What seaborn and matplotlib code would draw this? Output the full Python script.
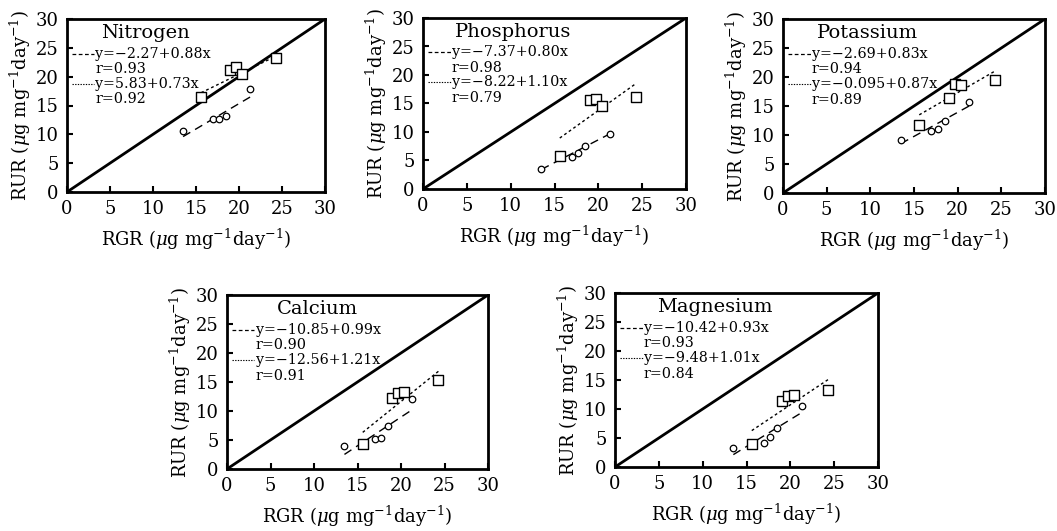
import matplotlib
matplotlib.use("Agg")
import matplotlib.pyplot as plt
import seaborn as sns
import numpy as np
import pandas as pd

# ---- data ----
nutrients = ["Nitrogen", "Phosphorus", "Potassium", "Calcium", "Magnesium"]
rgr_circles = [13.5, 17.0, 17.7, 18.5, 21.3]
rgr_squares = [15.6, 19.0, 19.7, 20.4, 24.3]

rur_circles_N = [10.6, 12.6, 12.7, 13.1, 17.9]
rur_squares_N = [16.4, 21.1, 21.6, 20.5, 23.2]
rur_circles_P = [3.5, 5.7, 6.3, 7.6, 9.6]
rur_squares_P = [5.8, 15.6, 15.8, 14.6, 16.1]
rur_circles_K = [9.1, 10.7, 11.0, 12.4, 15.7]
rur_squares_K = [11.7, 16.4, 18.8, 18.6, 19.4]
rur_circles_Ca = [4.0, 5.1, 5.4, 7.5, 12.0]
rur_squares_Ca = [4.3, 12.2, 13.1, 13.2, 15.4]
rur_circles_Mg = [3.2, 4.2, 5.2, 6.8, 10.6]
rur_squares_Mg = [3.9, 11.3, 12.2, 12.45, 13.2]

# regression coefficients printed in each panel (intercept, slope, r)
fit1_a = [-2.27, -7.37, -2.69, -10.85, -10.42]
fit1_b = [0.88, 0.80, 0.83, 0.99, 0.93]
fit1_r = [0.93, 0.98, 0.94, 0.90, 0.93]
fit2_a = [5.83, -8.22, -0.095, -12.56, -9.48]
fit2_b = [0.73, 1.10, 0.87, 1.21, 1.01]
fit2_r = [0.92, 0.79, 0.89, 0.91, 0.84]
eq1_text = ["y=−2.27+0.88x", "y=−7.37+0.80x", "y=−2.69+0.83x",
            "y=−10.85+0.99x", "y=−10.42+0.93x"]
eq2_text = ["y=5.83+0.73x", "y=−8.22+1.10x", "y=−0.095+0.87x",
            "y=−12.56+1.21x", "y=−9.48+1.01x"]

ticks = [0, 5, 10, 15, 20, 25, 30]

circles = [rur_circles_N, rur_circles_P, rur_circles_K, rur_circles_Ca, rur_circles_Mg]
squares = [rur_squares_N, rur_squares_P, rur_squares_K, rur_squares_Ca, rur_squares_Mg]

# ---- layout (pixels in a 1057x531 figure: left, right, top, bottom) ----
W, H = 1057, 531
boxes = [(67, 325, 19, 192), (423, 686, 18, 189), (783, 1045, 19, 193),
         (227, 488, 295, 469), (615, 878, 293, 467)]
title_x = [0.13, 0.12, 0.13, 0.19, 0.16]

sns.set_theme(style="ticks")
plt.rcParams["font.family"] = ["DejaVu Serif"]
plt.rcParams["mathtext.fontset"] = "dejavuserif"
plt.rcParams["text.color"] = "black"
plt.rcParams["axes.labelcolor"] = "black"
plt.rcParams["xtick.color"] = "black"
plt.rcParams["ytick.color"] = "black"

fig = plt.figure(figsize=(W / 100, H / 100), dpi=100)
fig.patch.set_facecolor("white")

for i, name in enumerate(nutrients):
    l, r, t, b = boxes[i]
    ax = fig.add_axes([l / W, 1 - b / H, (r - l) / W, (b - t) / H])
    ax.set_facecolor("white")

    # 1:1 line
    sns.lineplot(x=[0, 30], y=[0, 30], ax=ax, color="black", lw=2.0)

    # fit lines
    xc = np.array([min(rgr_circles), max(rgr_circles)])
    xs = np.array([min(rgr_squares), max(rgr_squares)])
    sns.lineplot(x=xc, y=fit1_a[i] + fit1_b[i] * xc, ax=ax, color="black",
                 lw=1.0, linestyle=(0, (6, 4)))
    sns.lineplot(x=xs, y=fit2_a[i] + fit2_b[i] * xs, ax=ax, color="black",
                 lw=1.0, linestyle=(0, (2, 2)))

    # points
    sns.scatterplot(x=rgr_circles, y=circles[i], ax=ax, marker="o", s=22,
                    facecolor="white", edgecolor="black", linewidth=0.9, zorder=5)
    sns.scatterplot(x=rgr_squares, y=squares[i], ax=ax, marker="s", s=58,
                    facecolor="white", edgecolor="black", linewidth=1.0, zorder=5)

    ax.set_xlim(0, 30)
    ax.set_ylim(0, 30)
    ax.set_xticks(ticks)
    ax.set_yticks(ticks)
    ax.tick_params(direction="in", length=4, width=1.5, labelsize=13, pad=6,
                   colors="black")
    for sp in ax.spines.values():
        sp.set_visible(True)
        sp.set_linewidth(2.0)
        sp.set_color("black")

    ax.set_xlabel(r"RGR ($\mu$g mg$^{-1}$day$^{-1}$)", fontsize=13, labelpad=6,
                  color="black")
    ax.set_ylabel(r"RUR ($\mu$g mg$^{-1}$day$^{-1}$)", fontsize=13, labelpad=2,
                  color="black")

    # title and equations
    ax.text(title_x[i], 0.92, name, transform=ax.transAxes, fontsize=14,
            ha="left", va="center", color="black")
    ax.plot([0.02, 0.105], [0.80, 0.80], transform=ax.transAxes, color="black",
            lw=0.9, linestyle=(0, (3, 2)), clip_on=False)
    ax.text(0.11, 0.80, eq1_text[i], transform=ax.transAxes, fontsize=10.3,
            ha="left", va="center", color="black")
    ax.text(0.11, 0.71, "r=%.2f" % fit1_r[i], transform=ax.transAxes,
            fontsize=10.3, ha="left", va="center", color="black")
    ax.plot([0.02, 0.105], [0.625, 0.625], transform=ax.transAxes, color="black",
            lw=0.8, linestyle=(0, (1.2, 1.2)), clip_on=False)
    ax.text(0.11, 0.625, eq2_text[i], transform=ax.transAxes, fontsize=10.3,
            ha="left", va="center", color="black")
    ax.text(0.11, 0.535, "r=%.2f" % fit2_r[i], transform=ax.transAxes,
            fontsize=10.3, ha="left", va="center", color="black")

fig.savefig("out.png", dpi=100, facecolor="white")
